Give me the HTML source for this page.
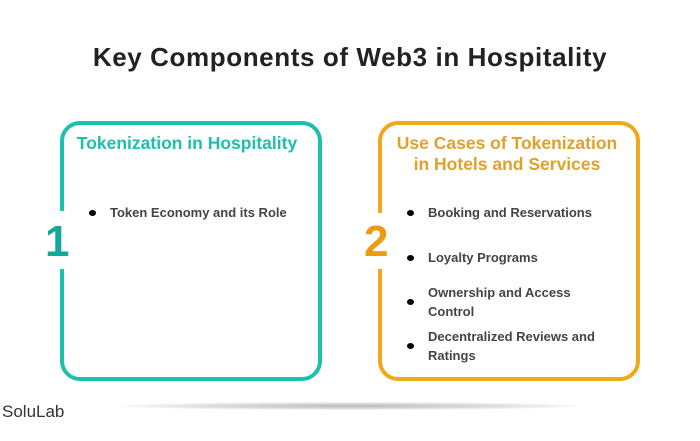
<!DOCTYPE html>
<html><head><style>
body{margin:0;width:700px;height:441px;background:#fff;position:relative;overflow:hidden;font-family:"Liberation Sans",Arial,sans-serif}
.t{position:absolute;top:42px;left:0;width:700px;text-align:center;font-size:26px;font-weight:bold;color:#222;letter-spacing:0.6px}
.box{position:absolute;top:121px;width:254px;height:252px;border:4px solid;border-radius:20px}
.gap{position:absolute;left:-6px;width:8px;background:#fff}
.num{position:absolute;font-size:44px;font-weight:bold}
.h{position:absolute;font-size:17.5px;font-weight:bold;text-align:center;line-height:21px}
.li{position:absolute;font-size:13px;font-weight:bold;color:#444;line-height:19px}
.li:before{content:"";position:absolute;left:-21px;top:50%;margin-top:-3px;width:7px;height:6px;border-radius:50%;background:#000}
.sh{position:absolute;left:120px;top:402px;width:460px;height:8px;border-radius:50%;background:radial-gradient(ellipse at center,#bbb 0%,#ddd 45%,rgba(255,255,255,0) 75%)}
</style></head><body>
<div class="t">Key Components of Web3 in Hospitality</div>
<div class="sh"></div>
<div class="box" style="left:60px;border-color:#1dbfad"><div class="gap" style="top:86px;height:58px"></div></div>
<div class="num" style="left:45px;top:217px;color:#15a898">1</div>
<div class="h" style="left:60px;top:133px;width:254px;color:#1dbfad">Tokenization in Hospitality</div>
<div class="li" style="left:110px;top:203px">Token Economy and its Role</div>

<div class="box" style="left:378px;border-color:#f0a81c"><div class="gap" style="top:88px;height:56px"></div></div>
<div class="num" style="left:364px;top:217px;color:#eb9d0f">2</div>
<div class="h" style="left:380px;top:133px;width:254px;color:#e0a12a">Use Cases of Tokenization<br>in Hotels and Services</div>
<div class="li" style="left:428px;top:203px">Booking and Reservations</div>
<div class="li" style="left:428px;top:248px">Loyalty Programs</div>
<div class="li" style="left:428px;top:283px;width:190px">Ownership and Access<br>Control</div>
<div class="li" style="left:428px;top:327px;width:200px">Decentralized Reviews and<br>Ratings</div>
<div style="position:absolute;left:2px;top:402px;font-size:17px;color:#333">SoluLab</div>
</body></html>
